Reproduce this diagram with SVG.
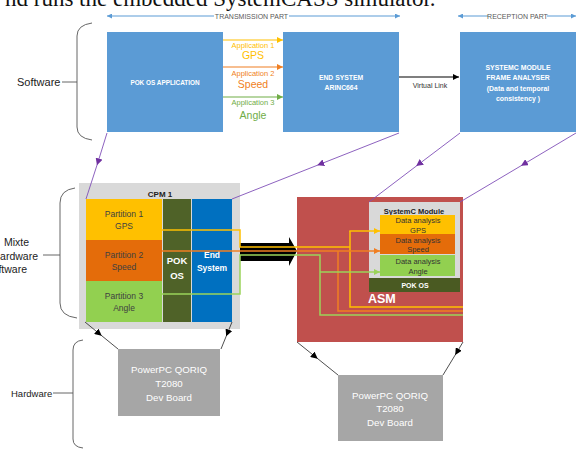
<svg xmlns="http://www.w3.org/2000/svg" width="576" height="449" viewBox="0 0 576 449">
<style>
text{font-family:"Liberation Sans",Arial,sans-serif}
.c{text-anchor:middle}
.b{font-weight:bold}
.w{fill:#ffffff}
.lbl{fill:#222222}
.brace{fill:none;stroke:#555555;stroke-width:0.9}
.purple{fill:none;stroke:#8050b8;stroke-width:0.9;marker-mid:url(#mPurple)}
.blk{fill:none;stroke:#222222;stroke-width:0.8;marker-mid:url(#mBlack)}
.ln{fill:none;stroke-width:1.5}
</style>
<defs>
<marker id="aBlue" viewBox="0 0 10 10" refX="10" refY="5" markerWidth="6" markerHeight="5" markerUnits="userSpaceOnUse" orient="auto-start-reverse"><path d="M0,0L10,5L0,10z" fill="#5b9bd5"/></marker>
<marker id="aYel" viewBox="0 0 10 10" refX="10" refY="5" markerWidth="6" markerHeight="6" markerUnits="userSpaceOnUse" orient="auto"><path d="M0,0L10,5L0,10z" fill="#ffc000"/></marker>
<marker id="aOra" viewBox="0 0 10 10" refX="10" refY="5" markerWidth="6" markerHeight="6" markerUnits="userSpaceOnUse" orient="auto"><path d="M0,0L10,5L0,10z" fill="#f07f22"/></marker>
<marker id="aGrn" viewBox="0 0 10 10" refX="10" refY="5" markerWidth="6" markerHeight="6" markerUnits="userSpaceOnUse" orient="auto"><path d="M0,0L10,5L0,10z" fill="#70ad47"/></marker>
<marker id="aGrn2" viewBox="0 0 10 10" refX="10" refY="5" markerWidth="6" markerHeight="6" markerUnits="userSpaceOnUse" orient="auto"><path d="M0,0L10,5L0,10z" fill="#9bd35a"/></marker>
<marker id="aBlk" viewBox="0 0 10 10" refX="10" refY="5" markerWidth="6" markerHeight="6" markerUnits="userSpaceOnUse" orient="auto"><path d="M0,0L10,5L0,10z" fill="#000000"/></marker>
<marker id="mPurple" viewBox="0 0 10 10" refX="5" refY="5" markerWidth="7" markerHeight="7" markerUnits="userSpaceOnUse" orient="auto"><path d="M0,0L10,5L0,10z" fill="#7030a0"/></marker>
<marker id="mBlack" viewBox="0 0 10 10" refX="5" refY="5" markerWidth="7" markerHeight="7" markerUnits="userSpaceOnUse" orient="auto"><path d="M0,0L10,5L0,10z" fill="#000000"/></marker>
</defs>
<rect width="576" height="449" fill="#ffffff"/>

<text x="5" y="6" style="font-family:'Liberation Serif',serif" font-size="23" fill="#111">nd runs the embedded SystemCASS simulator.</text>

<g id="parts">
<line x1="214" y1="16" x2="107" y2="16" stroke="#5b9bd5" stroke-width="1" marker-end="url(#aBlue)"/>
<line x1="289" y1="16" x2="400" y2="16" stroke="#5b9bd5" stroke-width="1" marker-end="url(#aBlue)"/>
<text x="251.5" y="18.5" class="c" font-size="7" fill="#595959">TRANSMISSION PART</text>
<line x1="488" y1="16" x2="458" y2="16" stroke="#5b9bd5" stroke-width="1" marker-end="url(#aBlue)"/>
<line x1="547" y1="16" x2="576" y2="16" stroke="#5b9bd5" stroke-width="1" marker-end="url(#aBlue)"/>
<text x="517.5" y="18.5" class="c" font-size="7" fill="#595959">RECEPTION PART</text>
</g>

<g id="layer-labels">
<path class="brace" d="M92,23 Q77,25 77,36 L77,127 Q77,138 92,140"/>
<line class="brace" x1="62" y1="82" x2="77" y2="82"/>
<text x="17" y="86" font-size="11" class="lbl">Software</text>
<path class="brace" d="M75,188 Q60,190 60,203 L60,303 Q60,316 77,318"/>
<line class="brace" x1="43" y1="255" x2="60" y2="255"/>
<text x="16.5" y="246" class="c lbl" font-size="10.5">Mixte</text>
<text x="38" y="260" text-anchor="end" class="lbl" font-size="10.5">Hardware</text>
<text x="27" y="273" text-anchor="end" class="lbl" font-size="10.5">Software</text>
<path class="brace" d="M83,340 Q73,341 73,350 L73,439 Q73,447 83,448"/>
<line class="brace" x1="53" y1="393" x2="73" y2="393"/>
<text x="11" y="396.5" font-size="9.5" class="lbl">Hardware</text>
</g>

<g id="pok-os-application">
<rect x="107" y="32" width="116" height="100" fill="#5b9bd5"/>
<text x="165" y="84.5" class="c b w" font-size="6.4">POK OS APPLICATION</text>
</g>
<g id="end-system-arinc664">
<rect x="283" y="32" width="116" height="100" fill="#5b9bd5"/>
<text x="341" y="80" class="c b w" font-size="6.8">END SYSTEM</text>
<text x="341" y="90" class="c b w" font-size="6.8">ARINC664</text>
</g>
<g id="systemc-frame-analyser">
<rect x="460" y="32" width="117" height="100" fill="#5b9bd5"/>
<text x="518" y="69.5" class="c b w" font-size="6.9">SYSTEMC MODULE</text>
<text x="518" y="80" class="c b w" font-size="6.9">FRAME ANALYSER</text>
<text x="518" y="90.5" class="c b w" font-size="6.9">(Data and temporal</text>
<text x="518" y="100.5" class="c b w" font-size="6.9">consistency )</text>
</g>

<g id="cpm1">
<rect x="79" y="183" width="161" height="146" fill="#d9d9d9"/>
<text x="160" y="197" class="c b lbl" font-size="8">CPM 1</text>
<rect x="86" y="199" width="76" height="41" fill="#ffc000"/>
<rect x="86" y="240" width="76" height="41" fill="#e46c0a"/>
<rect x="86" y="281" width="76" height="41" fill="#92d050"/>
<g font-size="8.5" fill="#404040">
<text x="124" y="217" class="c">Partition 1</text>
<text x="124" y="228.5" class="c">GPS</text>
<text x="124" y="258" class="c">Partition 2</text>
<text x="124" y="270" class="c">Speed</text>
<text x="124" y="299" class="c">Partition 3</text>
<text x="124" y="310.5" class="c">Angle</text>
</g>
<rect x="163" y="199" width="28" height="123" fill="#4f6228"/>
<text x="177" y="263.5" class="c b w" font-size="9.5">POK</text>
<text x="177" y="278.5" class="c b w" font-size="9.5">OS</text>
<rect x="192" y="199" width="40" height="123" fill="#0070c0"/>
<text x="212" y="258" class="c b w" font-size="8.5">End</text>
<text x="212" y="271" class="c b w" font-size="8.5">System</text>
</g>

<g id="asm">
<rect x="297" y="197" width="166" height="145" fill="#c0504d"/>
<text x="368" y="303" class="b w" font-size="12.5">ASM</text>
<rect x="369" y="202" width="91" height="76" fill="#d9d9d9"/>
<text x="414" y="213.5" class="c b lbl" font-size="7.5">SystemC Module</text>
<rect x="380" y="215" width="75" height="19" fill="#ffc000"/>
<rect x="380" y="234" width="75" height="20" fill="#e46c0a"/>
<rect x="380" y="255" width="75" height="21" fill="#92d050"/>
<g font-size="7.5" fill="#333333">
<text x="418" y="222.5" class="c">Data analysis</text>
<text x="418" y="232.5" class="c">GPS</text>
<text x="418" y="242.5" class="c">Data analysis</text>
<text x="418" y="252" class="c">Speed</text>
<text x="418" y="263.5" class="c">Data analysis</text>
<text x="418" y="273.5" class="c">Angle</text>
</g>
<rect x="369" y="278" width="91" height="14" fill="#4a5a22"/>
<text x="415" y="287.5" class="c b w" font-size="7">POK OS</text>
</g>

<g id="board-1">
<rect x="118" y="349" width="102" height="67" fill="#a6a6a6"/>
<text x="169" y="372.5" class="c w" font-size="9.7">PowerPC QORIQ</text>
<text x="169" y="386.5" class="c w" font-size="9.7">T2080</text>
<text x="169" y="400.5" class="c w" font-size="9.7">Dev Board</text>
</g>
<g id="board-2">
<rect x="338" y="375" width="105" height="66" fill="#a6a6a6"/>
<text x="390" y="398.5" class="c w" font-size="9.7">PowerPC QORIQ</text>
<text x="390" y="411.5" class="c w" font-size="9.7">T2080</text>
<text x="390" y="425.5" class="c w" font-size="9.7">Dev Board</text>
</g>

<g id="connectors">
<line x1="223" y1="40" x2="283" y2="40" stroke="#ffc000" stroke-width="1.2" marker-end="url(#aYel)"/>
<line x1="223" y1="67" x2="283" y2="67" stroke="#f07f22" stroke-width="1.2" marker-end="url(#aOra)"/>
<line x1="223" y1="97" x2="283" y2="97" stroke="#70ad47" stroke-width="1.2" marker-end="url(#aGrn)"/>
<text x="253" y="48" class="c" font-size="7.5" fill="#ffc000">Application 1</text>
<text x="253" y="59" class="c" font-size="10.5" fill="#ffc000">GPS</text>
<text x="253" y="76" class="c" font-size="7.5" fill="#f07f22">Application 2</text>
<text x="253" y="87.5" class="c" font-size="10.5" fill="#f07f22">Speed</text>
<text x="253" y="105" class="c" font-size="7.5" fill="#70ad47">Application 3</text>
<text x="253" y="119" class="c" font-size="10.5" fill="#70ad47">Angle</text>

<line x1="399" y1="77" x2="459" y2="77" stroke="#000" stroke-width="1.2" marker-end="url(#aBlk)"/>
<text x="430" y="87.5" class="c" font-size="7" fill="#333">Virtual Link</text>

<polyline class="purple" points="107,133 98,162 86,199"/>
<polyline class="purple" points="399,133 320.5,164 232,199"/>
<polyline class="purple" points="460,133 419,164 369,202"/>
<polyline class="purple" points="576,133 524,164 460,202"/>

<path d="M240,243 H289 V237 L297,251 L289,266 V261 H240 Z" fill="#000000"/>

<path class="ln" stroke="#ffc000" d="M162,230 H240 V247 H350"/>
<path class="ln" stroke="#ffc000" d="M350,231 V307 H463"/>
<path class="ln" stroke="#ffc000" d="M349.3,231 H380" marker-end="url(#aYel)"/>
<path class="ln" stroke="#f07f22" d="M162,251 H380" marker-end="url(#aOra)"/>
<path class="ln" stroke="#f07f22" d="M338,251 V311 H463"/>
<path class="ln" stroke="#9bd35a" d="M162,294 H240 V255 H320 V315 H463"/>
<path class="ln" stroke="#9bd35a" d="M320,272 H380" marker-end="url(#aGrn2)"/>

<polyline class="blk" points="85,322 99,333.5 118,349"/>
<polyline class="blk" points="232,322 227.5,333 221,349"/>
<polyline class="blk" points="297,342 315,356.5 338,375"/>
<polyline class="blk" points="463,342 457,352 443,375"/>
</g>
</svg>
